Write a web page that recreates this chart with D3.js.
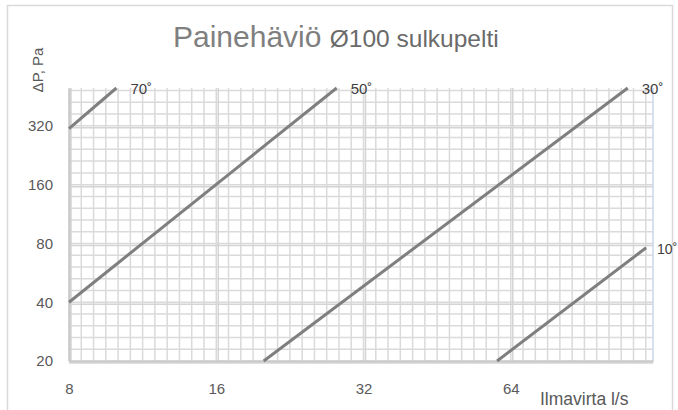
<!DOCTYPE html>
<html>
<head>
<meta charset="utf-8">
<script src="https://cdn.jsdelivr.net/npm/d3@7"></script>
<style>
  body { margin: 0; background: #fff; }
  text { font-family: "Liberation Sans", Arial, sans-serif; }
</style>
</head>
<body>
<script>
// Chart data
var angles = ["70˚", "50˚", "30˚", "10˚"];
var flowValues = [   // Ilmavirta l/s, start & end of each line
  [8, 10],
  [8, 28.2],
  [20, 111],
  [60, 121]
];
var pressureValues = [   // ΔP Pa, start & end of each line
  [310, 500],
  [40, 500],
  [20, 500],
  [20, 76]
];
var xTicks = [8, 16, 32, 64];
var yTicks = [20, 40, 80, 160, 320];
var xDomain = [8, 125];
var yDomain = [20, 500];

// SVG area
var svgWidth = 678;
var svgHeight = 410;

var chartMargin = { top: 88, right: 25, bottom: 49, left: 69 };
var chartWidth = svgWidth - chartMargin.left - chartMargin.right;
var chartHeight = svgHeight - chartMargin.top - chartMargin.bottom;

var svg = d3.select("body")
  .append("svg")
  .attr("width", svgWidth)
  .attr("height", svgHeight);

// outer chart border
svg.append("rect")
  .attr("x", 7.5).attr("y", 5.5)
  .attr("width", 665).attr("height", 420)
  .attr("fill", "none")
  .attr("stroke", "#d9d9d9")
  .attr("stroke-width", 1.5);

var chartGroup = svg.append("g")
  .attr("transform", `translate(${chartMargin.left}, ${chartMargin.top})`);

var xScale = d3.scaleLog().base(2).domain(xDomain).range([0, chartWidth]);
var yScale = d3.scaleLog().base(2).domain(yDomain).range([chartHeight, 0]);

// minor grid: equal steps in log space (12 per octave across, 5 per octave up)
var xMinor = [];
for (var i = 0; i <= 60; i++) {
  var v = xDomain[0] * Math.pow(2, i / 12);
  if (v <= xDomain[1]) xMinor.push(v);
}
var yMinor = [];
for (var j = 0; j <= 30; j++) {
  var w = yDomain[0] * Math.pow(2, j / 5);
  if (w <= yDomain[1]) yMinor.push(w);
}

var grid = chartGroup.append("g");
grid.selectAll(".vminor")
  .data(xMinor)
  .enter()
  .append("line")
  .attr("x1", d => xScale(d)).attr("x2", d => xScale(d))
  .attr("y1", 0).attr("y2", chartHeight)
  .attr("stroke", "#dadada")
  .attr("stroke-width", 1.5);

grid.selectAll(".hminor")
  .data(yMinor)
  .enter()
  .append("line")
  .attr("y1", d => yScale(d)).attr("y2", d => yScale(d))
  .attr("x1", 0).attr("x2", chartWidth)
  .attr("stroke", "#dadada")
  .attr("stroke-width", 1.5);

// major gridlines
grid.selectAll(".vmajor")
  .data(xTicks)
  .enter()
  .append("line")
  .attr("x1", d => xScale(d) + 2).attr("x2", d => xScale(d) + 2)
  .attr("y1", 0).attr("y2", chartHeight)
  .attr("stroke", "#d4d4d4")
  .attr("stroke-width", 1.5);

grid.selectAll(".hmajor")
  .data(yTicks)
  .enter()
  .append("line")
  .attr("y1", d => yScale(d) + 2).attr("y2", d => yScale(d) + 2)
  .attr("x1", 0).attr("x2", chartWidth)
  .attr("stroke", "#d4d4d4")
  .attr("stroke-width", 1.5);

// plot border
chartGroup.append("line")
  .attr("x1", chartWidth).attr("x2", chartWidth)
  .attr("y1", 0).attr("y2", chartHeight)
  .attr("stroke", "#c9d6ea").attr("stroke-width", 1.5);

// axes
var bottomAxis = d3.axisBottom(xScale).tickValues(xTicks).tickFormat(d3.format("d")).tickSize(0).tickPadding(22);
var leftAxis = d3.axisLeft(yScale).tickValues(yTicks).tickFormat(d3.format("d")).tickSize(0).tickPadding(16);

var xAxisG = chartGroup.append("g")
  .attr("transform", `translate(0, ${chartHeight})`)
  .call(bottomAxis);
var yAxisG = chartGroup.append("g")
  .call(leftAxis);

[xAxisG, yAxisG].forEach(function(g) {
  g.select(".domain").attr("stroke", "#c8c8c8").attr("stroke-width", 2);
  g.selectAll("text")
    .attr("fill", "#595959")
    .style("font-size", "15px")
    .style("font-family", "'Liberation Sans', Arial, sans-serif");
});

// series lines
var lineGen = d3.line()
  .x(d => xScale(d[0]))
  .y(d => yScale(d[1]));

var seriesData = angles.map(function(a, k) {
  return {
    label: a,
    points: flowValues[k].map((q, m) => [q, pressureValues[k][m]])
  };
});

chartGroup.selectAll(".series")
  .data(seriesData)
  .enter()
  .append("path")
  .attr("d", d => lineGen(d.points))
  .attr("fill", "none")
  .attr("stroke", "#7f7f7f")
  .attr("stroke-width", 3);

// labels at the end of each line (last one kept inside the frame)
chartGroup.selectAll(".angle")
  .data(seriesData)
  .enter()
  .append("text")
  .attr("x", (d, k) => xScale(d.points[1][0]) + (k === 3 ? 11 : 14))
  .attr("y", d => yScale(d.points[1][1]) + 6)
  .attr("fill", "#404040")
  .style("font-size", (d, k) => k === 3 ? "14px" : "15px")
  .text(d => d.label);

// title
var title = svg.append("text")
  .attr("x", 173)
  .attr("y", 47)
  .attr("fill", "#7f7f7f");
title.append("tspan")
  .style("font-size", "30px")
  .text("Painehäviö ");
title.append("tspan")
  .style("font-size", "24.5px")
  .attr("fill", "#6a6a6a")
  .text("Ø100 sulkupelti");

// axis titles
svg.append("text")
  .attr("transform", "translate(43, 70) rotate(-90)")
  .attr("text-anchor", "middle")
  .attr("fill", "#595959")
  .style("font-size", "15px")
  .text("ΔP, Pa");

svg.append("text")
  .attr("x", 540)
  .attr("y", 405)
  .attr("fill", "#595959")
  .style("font-size", "17.5px")
  .text("Ilmavirta l/s");
</script>
</body>
</html>
